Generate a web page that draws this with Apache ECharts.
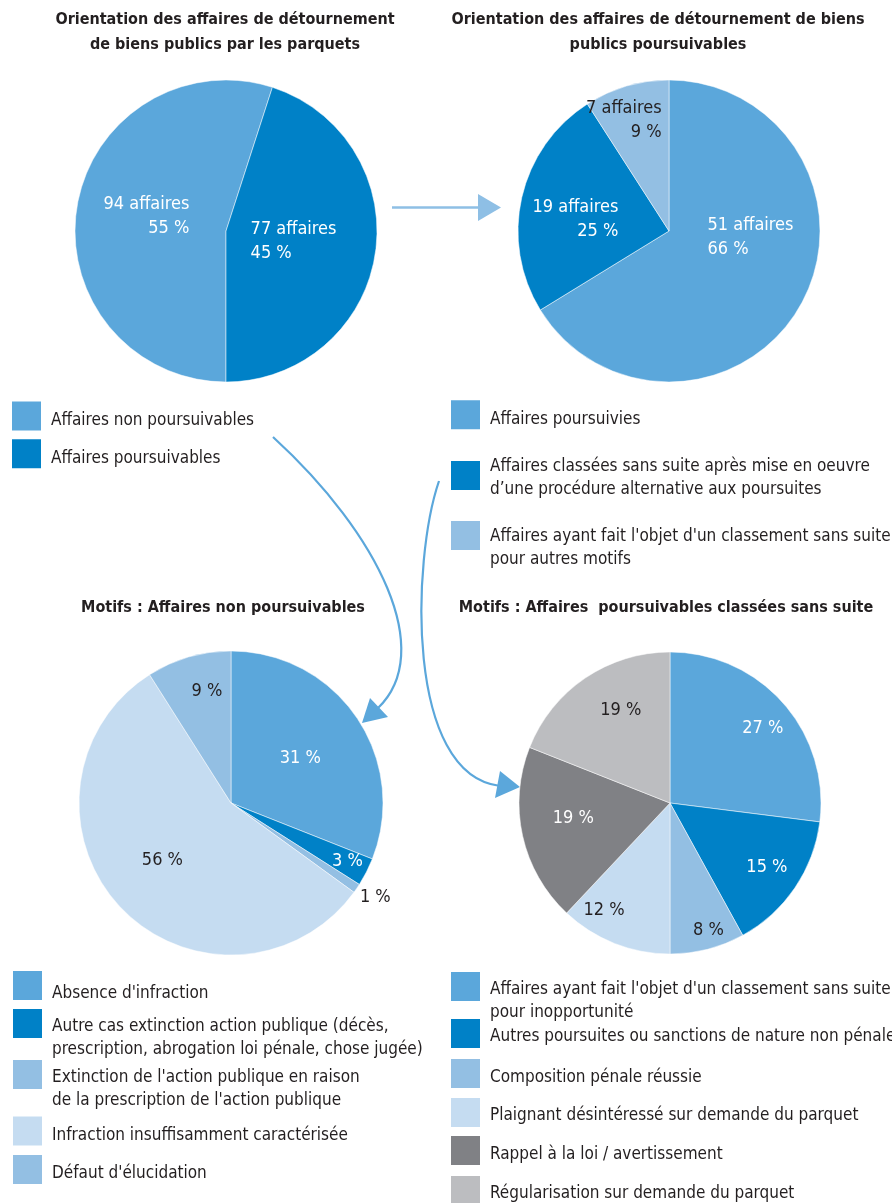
<!DOCTYPE html>
<html>
<head>
<meta charset="utf-8">
<script src="https://cdn.jsdelivr.net/npm/echarts@6/dist/echarts.min.js"></script>
<style>
  html, body { margin: 0; padding: 0; background: #ffffff; }
  #chart { width: 892px; height: 1203px; }
</style>
</head>
<body>
<div id="chart"></div>
<script>
// ---- Data ----
const orientLabels = ['Affaires non poursuivables', 'Affaires poursuivables'];
const orientCounts = [94, 77];

const suiteLabels = [
  'Affaires poursuivies',
  'Affaires classées sans suite après mise en oeuvre\nd’une procédure alternative aux poursuites',
  "Affaires ayant fait l'objet d'un classement sans suite\npour autres motifs"
];
const suiteCounts = [51, 19, 7];

const nonPoursLabels = [
  "Absence d'infraction",
  'Autre cas extinction action publique (décès,\nprescription, abrogation loi pénale, chose jugée)',
  "Extinction de l'action publique en raison\nde la prescription de l'action publique",
  'Infraction insuffisamment caractérisée',
  "Défaut d'élucidation"
];
const nonPoursPct = [31, 3, 1, 56, 9];

const classementLabels = [
  "Affaires ayant fait l'objet d'un classement sans suite\npour inopportunité",
  'Autres poursuites ou sanctions de nature non pénale',
  'Composition pénale réussie',
  'Plaignant désintéressé sur demande du parquet',
  'Rappel à la loi / avertissement',
  'Régularisation sur demande du parquet'
];
const classementPct = [27, 15, 8, 12, 19, 19];

const titles = [
  'Orientation des affaires de détournement\nde biens publics par les parquets',
  'Orientation des affaires de détournement de biens\npublics poursuivables',
  'Motifs : Affaires non poursuivables',
  'Motifs : Affaires  poursuivables classées sans suite'
];

// ---- Styles ----
const FONT = "'DejaVu Sans Condensed', 'Liberation Sans Narrow', 'Arial Narrow', sans-serif";
const INK = '#231F20';
const WHITE = '#FFFFFF';
const C = {
  blue: '#5BA7DB',
  deep: '#0081C7',
  soft: '#93BFE3',
  pale: '#C5DCF1',
  slate: '#808185',
  mist: '#BCBDC0',
  arrowLight: '#8EBFE5'
};

const pies = [
  { names: orientLabels, values: orientCounts, center: [226, 231], r: 151, start: -90,
    colors: [C.blue, C.deep], text: [WHITE, WHITE], align: ['r', 'l'],
    nudge: [[-2, -2], [-10, -2]], twoLine: true },
  { names: suiteLabels, values: suiteCounts, center: [669, 231], r: 151, start: 90,
    colors: [C.blue, C.deep, C.soft], text: [WHITE, WHITE, INK], align: ['l', 'r', 'r'],
    nudge: [[13, -32], [-17, 6], [-23, -35]], twoLine: true },
  { names: nonPoursLabels, values: nonPoursPct, center: [231, 803], r: 152, start: 90,
    colors: [C.blue, C.deep, C.soft, C.pale, C.soft], text: [WHITE, WHITE, INK, INK, INK],
    nudge: [[4, 0], [46, 22], [79, 50], [-11, 3], [-2, -36]], twoLine: false },
  { names: classementLabels, values: classementPct, center: [670, 803], r: 151, start: 90,
    colors: [C.blue, C.deep, C.soft, C.pale, C.slate, C.mist], text: [WHITE, WHITE, INK, INK, WHITE, INK],
    nudge: [[34, -23], [32, 20], [19, 51], [-37, 34], [-20, -2], [-5, -28]], twoLine: false }
];

// Legend rows: [icon top, first-line offset from icon middle]
const legendRows = [
  { pie: 0, left: 10, rows: [[400, 4.5], [438, 4.8]] },
  { pie: 1, left: 449, rows: [[399, 4.8], [460, -9.3], [520, 1.2]] },
  { pie: 2, left: 11, rows: [[970, 7.8], [1008, 3], [1059, 3.5], [1115, 4.5], [1153, 3.7]] },
  { pie: 3, left: 449, rows: [[971, 3.5], [1017, 3.5], [1057, 4], [1096, 3.5], [1134, 3.8], [1174, 3]] }
];

const ICON = 31, LINE_H = 23, LEGEND_SIZE = 17, LABEL_SIZE = 18, TITLE_SIZE = 16;

function buildLegends() {
  const out = [];
  legendRows.forEach(function (grp) {
    const names = pies[grp.pie].names;
    grp.rows.forEach(function (row, i) {
      const name = names[i];
      const n = name.split('\n').length;
      const shift = 2 * row[1] + (n - 1) * LINE_H;
      const boxH = n * LINE_H + Math.abs(shift);
      const pad = shift >= 0 ? [shift, 0, 0, 4] : [0, 0, -shift, 4];
      out.push({
        data: [name],
        left: grp.left,
        top: row[0] - Math.max(0, boxH / 2 - ICON / 2),
        orient: 'vertical',
        padding: 0,
        icon: 'rect',
        itemWidth: ICON,
        itemHeight: ICON,
        selectedMode: false,
        textStyle: {
          fontFamily: FONT, fontSize: LEGEND_SIZE, color: INK, lineHeight: LINE_H,
          padding: pad, backgroundColor: 'rgba(0,0,0,0)',
          rich: { t: { fontFamily: FONT, fontSize: LEGEND_SIZE, lineHeight: LINE_H } }
        }
      });
    });
  });
  return out;
}

function buildSeries() {
  return pies.map(function (p) {
    const total = p.values.reduce(function (a, b) { return a + b; }, 0);
    return {
      type: 'pie',
      center: p.center,
      radius: [0, p.r],
      startAngle: p.start,
      clockwise: true,
      avoidLabelOverlap: false,
      silent: true,
      emphasis: { disabled: true },
      itemStyle: { borderColor: '#ffffff', borderWidth: 0.5 },
      labelLine: { show: false },
      label: {
        show: true,
        position: 'inside',
        fontFamily: FONT,
        fontSize: LABEL_SIZE,
        lineHeight: 24,
        formatter: function (params) {
          if (p.twoLine) {
            const pct = Math.round(params.value / total * 100);
            const a = p.align[params.dataIndex];
            return '{' + a + '|' + params.value + ' affaires}\n{' + a + '|' + pct + ' %}';
          }
          return params.value + ' %';
        },
        rich: {
          r: { align: 'right', fontFamily: FONT, fontSize: LABEL_SIZE, lineHeight: 24 },
          l: { align: 'left', fontFamily: FONT, fontSize: LABEL_SIZE, lineHeight: 24 }
        }
      },
      labelLayout: function (params) {
        const d = p.nudge[params.dataIndex];
        return { dx: d[0], dy: d[1] };
      },
      data: p.names.map(function (name, i) {
        return {
          name: name,
          value: p.values[i],
          itemStyle: { color: p.colors[i] },
          label: { color: p.text[i] }
        };
      })
    };
  });
}

function buildTitles() {
  const spots = [[225, 7.5], [658, 7.5], [223, 595.5], [666, 595.5]];
  return titles.map(function (t, i) {
    return {
      text: t,
      left: spots[i][0],
      top: spots[i][1],
      textAlign: 'center',
      padding: 0,
      textStyle: { fontFamily: FONT, fontSize: TITLE_SIZE, fontWeight: 'bold', color: INK, lineHeight: 25 }
    };
  });
}

// Connector arrows between the panels
const graphics = [
  { type: 'line', shape: { x1: 392, y1: 207.5, x2: 480, y2: 207.5 },
    style: { stroke: C.arrowLight, lineWidth: 2.4 }, silent: true },
  { type: 'polygon', shape: { points: [[478, 194], [501, 207.5], [478, 221]] },
    style: { fill: C.arrowLight }, silent: true },
  { type: 'bezierCurve', shape: { x1: 273, y1: 437, cpx1: 380, cpy1: 535, cpx2: 436, cpy2: 652, x2: 378, y2: 708 },
    style: { stroke: C.blue, lineWidth: 2.2, fill: null }, silent: true },
  { type: 'polygon', shape: { points: [[362, 723], [370, 698], [388, 717]] },
    style: { fill: C.blue }, silent: true },
  { type: 'bezierCurve', shape: { x1: 439, y1: 481, cpx1: 412, cpy1: 560, cpx2: 405, cpy2: 775, x2: 500, y2: 786 },
    style: { stroke: C.blue, lineWidth: 2.2, fill: null }, silent: true },
  { type: 'polygon', shape: { points: [[520, 787], [500, 771], [495, 798]] },
    style: { fill: C.blue }, silent: true }
];

const chart = echarts.init(document.getElementById('chart'), null, { renderer: 'canvas' });
chart.setOption({
  backgroundColor: '#ffffff',
  animation: false,
  title: buildTitles(),
  legend: buildLegends(),
  series: buildSeries(),
  graphic: graphics
});
</script>
</body>
</html>
